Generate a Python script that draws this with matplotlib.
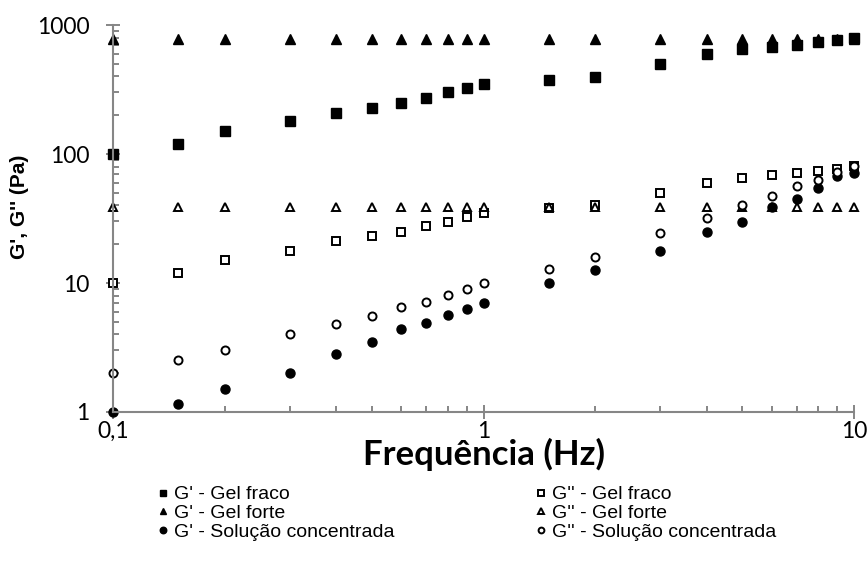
import matplotlib
matplotlib.use("Agg")
import matplotlib.pyplot as plt
from matplotlib.ticker import FixedLocator, LogLocator, NullFormatter, FixedFormatter

# frequency sweep (Hz)
freq = [0.1, 0.15, 0.2, 0.3, 0.4, 0.5, 0.6, 0.7, 0.8, 0.9, 1,
        1.5, 2, 3, 4, 5, 6, 7, 8, 9, 10]

# moduli (Pa)
gp_fraco = [100, 119, 150, 180, 207, 229, 247, 272, 300, 325, 350,
            375, 398, 496, 596, 647, 680, 700, 743, 765, 789]
gpp_fraco = [10, 12, 15, 17.8, 21, 23, 24.8, 27.8, 29.7, 32.7, 35,
             38, 40, 50, 60, 65, 69, 71, 74, 77, 81]
gp_forte = [780] * 21
gpp_forte = [39] * 21
gp_sol = [1, 1.15, 1.5, 2.0, 2.8, 3.5, 4.4, 4.9, 5.6, 6.3, 7,
          10, 12.6, 17.8, 24.7, 29.9, 39, 45, 55, 67, 71]
gpp_sol = [2, 2.52, 3.02, 4.0, 4.8, 5.5, 6.5, 7.1, 8.1, 9, 10,
           12.8, 15.9, 24.4, 32, 40, 47.5, 56, 63, 73, 81]

xticks = [0.1, 1, 10]
xtick_labels = ["0,1", "1", "10"]
yticks = [1, 10, 100, 1000]
ytick_labels = ["1", "10", "100", "1000"]

TICK_FONT = "Lato"
LEG_FONT = "Liberation Sans"
AXIS_GRAY = "#868686"

fig = plt.figure(figsize=(8.68, 5.78), dpi=100)
ax = fig.add_axes([0.1302, 0.2872, 0.8537, 0.6695])

ax.plot(freq, gp_fraco, ls="none", marker="s", ms=6.8, mfc="black", mec="black",
        label="G' - Gel fraco")
ax.plot(freq, gpp_fraco, ls="none", marker="s", ms=5.8, mfc="white", mec="black",
        mew=1.4, label="G'' - Gel fraco")
ax.plot(freq, gp_forte, ls="none", marker="^", ms=6.8, mfc="black", mec="black",
        label="G' - Gel forte")
ax.plot(freq, gpp_forte, ls="none", marker="^", ms=5.8, mfc="white", mec="black",
        mew=1.4, label="G'' - Gel forte")
ax.plot(freq, gp_sol, ls="none", marker="o", ms=6.5, mfc="black", mec="black",
        label="G' - Solução concentrada")
ax.plot(freq, gpp_sol, ls="none", marker="o", ms=5.8, mfc="white", mec="black",
        mew=1.4, label="G'' - Solução concentrada")

for m in ax.lines:
    m.set_clip_on(False)

ax.set_xscale("log")
ax.set_yscale("log")
ax.set_xlim(0.1, 10)
ax.set_ylim(1, 1000)

ax.xaxis.set_major_locator(FixedLocator(xticks))
ax.xaxis.set_major_formatter(FixedFormatter(xtick_labels))
ax.xaxis.set_minor_locator(LogLocator(base=10, subs=range(2, 10)))
ax.xaxis.set_minor_formatter(NullFormatter())
ax.yaxis.set_major_locator(FixedLocator(yticks))
ax.yaxis.set_major_formatter(FixedFormatter(ytick_labels))
ax.yaxis.set_minor_locator(LogLocator(base=10, subs=range(2, 10)))
ax.yaxis.set_minor_formatter(NullFormatter())

for side in ["top", "right"]:
    ax.spines[side].set_visible(False)
for side in ["left", "bottom"]:
    ax.spines[side].set_color(AXIS_GRAY)
    ax.spines[side].set_linewidth(1.5)

ax.tick_params(which="major", direction="inout", length=9.5, width=1.4,
               color=AXIS_GRAY, labelsize=16.5)
ax.tick_params(axis="y", which="major", pad=12)
ax.tick_params(axis="x", which="major", pad=1.5)
ax.tick_params(which="minor", direction="in", length=4.5, width=1.4, color=AXIS_GRAY)
for lbl in ax.get_xticklabels() + ax.get_yticklabels():
    lbl.set_fontfamily(TICK_FONT)

ax.set_xlabel("Frequência (Hz)", fontfamily=TICK_FONT, fontweight="bold",
              fontsize=25)
ax.xaxis.set_label_coords(0.5, -0.068)
ax.set_ylabel("G', G'' (Pa)", fontfamily=LEG_FONT, fontweight="bold",
              fontsize=15)
ax.yaxis.set_label_coords(-0.113, 0.53)

handles, labels = ax.get_legend_handles_labels()
order = [0, 2, 4, 1, 3, 5]
leg = fig.legend([handles[i] for i in order], [labels[i] for i in order],
                 loc="upper left", bbox_to_anchor=(0.1674, 0.183), ncol=2,
                 frameon=False, prop={"family": LEG_FONT, "size": 14},
                 handlelength=0.45, handletextpad=0.35, columnspacing=7.3,
                 labelspacing=0.05, markerscale=0.72, borderpad=0.2)

fig.savefig("out.png", dpi=100)
